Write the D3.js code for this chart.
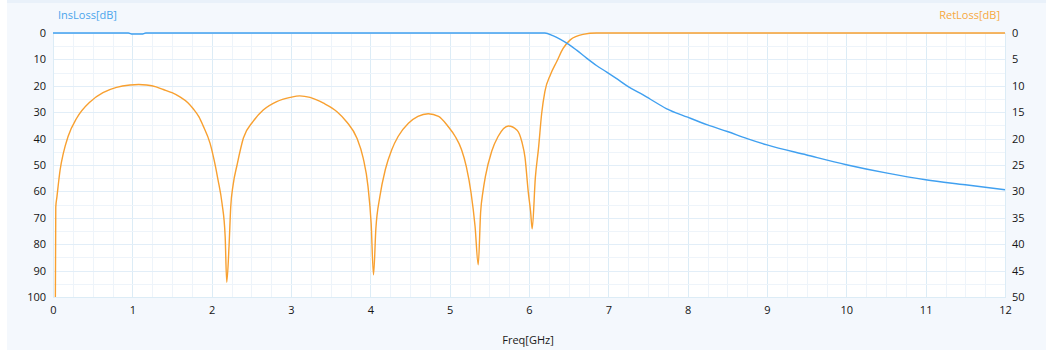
<!DOCTYPE html>
<html>
<head>
<meta charset="utf-8">
<script src="https://cdn.jsdelivr.net/npm/d3@7"></script>
<style>
  html, body { margin: 0; padding: 0; background: #ffffff; }
  svg { display: block; }
  text { font-family: "Open Sans", "Liberation Sans", sans-serif; }
</style>
</head>
<body>
<svg id="chart" width="1046" height="358"></svg>
<script>
// Insertion loss S21 (left axis, dB)
const freqIL = [0, 0.95, 1.0, 1.12, 1.17, 6.2, 6.3, 6.39, 6.5, 6.6, 6.73, 6.85, 6.98, 7.1, 7.25, 7.4, 7.53,
  7.73, 8.0, 8.25, 8.5, 8.75, 9.0, 9.5, 10.0, 10.5, 11.0, 11.5, 12.0];
const insLoss = [0, 0, 0.4, 0.4, 0, 0, 1.0, 2.3, 4.3, 6.5, 9.6, 12.3, 14.8, 17.2, 20.3, 22.8, 25.1,
  28.6, 31.9, 34.8, 37.3, 40.0, 42.4, 46.2, 49.9, 53.0, 55.6, 57.5, 59.4];

// Return loss S11 (right axis, dB)
const freqRL = [0.03, 0.035, 0.05, 0.09, 0.13, 0.19, 0.3, 0.47, 0.63, 0.8, 0.97, 1.08, 1.18, 1.3, 1.39, 1.5, 1.6,
  1.7, 1.77, 1.84, 1.89, 1.98, 2.04, 2.08, 2.13, 2.17, 2.19, 2.22, 2.24, 2.27, 2.32, 2.4, 2.52, 2.65, 2.82, 2.99,
  3.11, 3.24, 3.41, 3.58, 3.7, 3.83, 3.91, 3.97, 4.01, 4.04, 4.07, 4.12, 4.19, 4.27, 4.35, 4.48, 4.6,
  4.73, 4.86, 4.98, 5.07, 5.15, 5.21, 5.27, 5.32, 5.36, 5.39, 5.42, 5.45, 5.53, 5.61, 5.74, 5.85, 5.91,
  5.95, 5.99, 6.02, 6.04, 6.08, 6.12, 6.16, 6.2, 6.27, 6.35, 6.43, 6.52, 6.68, 6.85, 12.0];
const retLoss = [50, 33, 31, 25.9, 22.8, 19.6, 16.1, 13, 11.3, 10.3, 9.85, 9.75, 9.85, 10.2, 10.7, 11.3, 12.1,
  13.2, 14.4, 15.9, 17.5, 20.9, 24.7, 27.8, 32.2, 38.5, 47.2, 40, 33, 28.8, 25, 19.9, 16.8, 14.6, 13, 12.2,
  11.9, 12.2, 13.3, 14.9, 16.8, 19.9, 23.7, 29, 36, 45.8, 37, 31, 25.8, 22.1, 19.6, 17.1, 15.8,
  15.3, 15.8, 17.7, 19.6, 22.1, 25.3, 30.3, 36.6, 43.9, 34, 30, 27.2, 22.4, 19.6, 17.6, 18.4, 20.6,
  23.6, 30, 33.8, 37.1, 27.4, 21.8, 15.2, 11.1, 7.9, 5.4, 2.9, 1.3, 0.25, 0, 0];

// Axis ticks
const freqTicks = d3.range(0, 13, 1);
const ilTicks = d3.range(0, 101, 10);
const rlTicks = d3.range(0, 51, 5);

const colors = { il: "#40a0f0", rl: "#f8a030", ilLabel: "#4aa5ec", rlLabel: "#f7a840" };

const svg = d3.select("#chart");
const W = 1046, H = 358;
const plot = { left: 53, right: 1005, top: 33, bottom: 297 };

// panel background
svg.append("rect").attr("x", 7).attr("y", 0).attr("width", W - 7).attr("height", 350)
  .attr("fill", "#f4f8fd");
svg.append("rect").attr("x", 7).attr("y", 0).attr("width", W - 7).attr("height", 3)
  .attr("fill", "#e9f1fa");

const x = d3.scaleLinear().domain([0, 12]).range([plot.left, plot.right]);
const yL = d3.scaleLinear().domain([0, 100]).range([plot.top, plot.bottom]);
const yR = d3.scaleLinear().domain([0, 50]).range([plot.top, plot.bottom]);

// plot area
svg.append("rect").attr("x", plot.left).attr("y", plot.top)
  .attr("width", plot.right - plot.left).attr("height", plot.bottom - plot.top)
  .attr("fill", "#ffffff");

// grid: minor every 0.25 GHz / 5 dB, stronger at each major tick
const grid = svg.append("g").attr("shape-rendering", "crispEdges");
d3.range(0, 12.001, 0.25).forEach(f => {
  const major = Math.abs(f - Math.round(f)) < 1e-6;
  grid.append("line").attr("x1", Math.round(x(f)) + 0.5).attr("x2", Math.round(x(f)) + 0.5)
    .attr("y1", plot.top).attr("y2", plot.bottom)
    .attr("stroke", major ? "#dcecf6" : "#eef4fa").attr("stroke-width", 1);
});
d3.range(0, 100.001, 5).forEach(v => {
  const major = v % 10 === 0;
  grid.append("line").attr("y1", Math.round(yL(v)) + 0.5).attr("y2", Math.round(yL(v)) + 0.5)
    .attr("x1", plot.left).attr("x2", plot.right)
    .attr("stroke", major ? "#e2eef8" : "#eef4fa").attr("stroke-width", 1);
});
grid.append("rect").attr("x", plot.left + 0.5).attr("y", plot.top + 0.5)
  .attr("width", plot.right - plot.left).attr("height", plot.bottom - plot.top)
  .attr("fill", "none").attr("stroke", "#dcecf6");

// axes
function styleAxis(g) {
  g.select(".domain").remove();
  g.selectAll("line").remove();
  g.selectAll("text").attr("fill", "#151515").style("font-size", "11px")
    .style("font-family", "'Open Sans', 'Liberation Sans', sans-serif");
}
svg.append("g").attr("transform", `translate(${plot.left},0)`)
  .call(d3.axisLeft(yL).tickValues(ilTicks).tickSize(0).tickPadding(7).tickFormat(d3.format("d")))
  .call(styleAxis);
svg.append("g").attr("transform", `translate(${plot.right},0)`)
  .call(d3.axisRight(yR).tickValues(rlTicks).tickSize(0).tickPadding(7).tickFormat(d3.format("d")))
  .call(styleAxis);
svg.append("g").attr("transform", `translate(0,${plot.bottom})`)
  .call(d3.axisBottom(x).tickValues(freqTicks).tickSize(0).tickPadding(9).tickFormat(d3.format("d")))
  .call(styleAxis);

// axis titles
svg.append("text").attr("x", 58).attr("y", 19).attr("fill", colors.ilLabel)
  .style("font-size", "11px").text("InsLoss[dB]");
svg.append("text").attr("x", 1000).attr("y", 19).attr("text-anchor", "end").attr("fill", colors.rlLabel)
  .style("font-size", "11px").text("RetLoss[dB]");
svg.append("text").attr("x", 528).attr("y", 344).attr("text-anchor", "middle").attr("fill", "#1a1a1a")
  .style("font-size", "11px").text("Freq[GHz]");

// curves
const rlLine = d3.line().x(d => x(d[0])).y(d => yR(d[1])).curve(d3.curveMonotoneX);
const ilLine = d3.line().x(d => x(d[0])).y(d => yL(d[1])).curve(d3.curveMonotoneX);

svg.append("path").datum(d3.zip(freqRL, retLoss)).attr("d", rlLine)
  .attr("fill", "none").attr("stroke", colors.rl).attr("stroke-width", 1.4);
svg.append("path").datum(d3.zip(freqIL, insLoss)).attr("d", ilLine)
  .attr("fill", "none").attr("stroke", colors.il).attr("stroke-width", 1.4);
</script>
</body>
</html>
